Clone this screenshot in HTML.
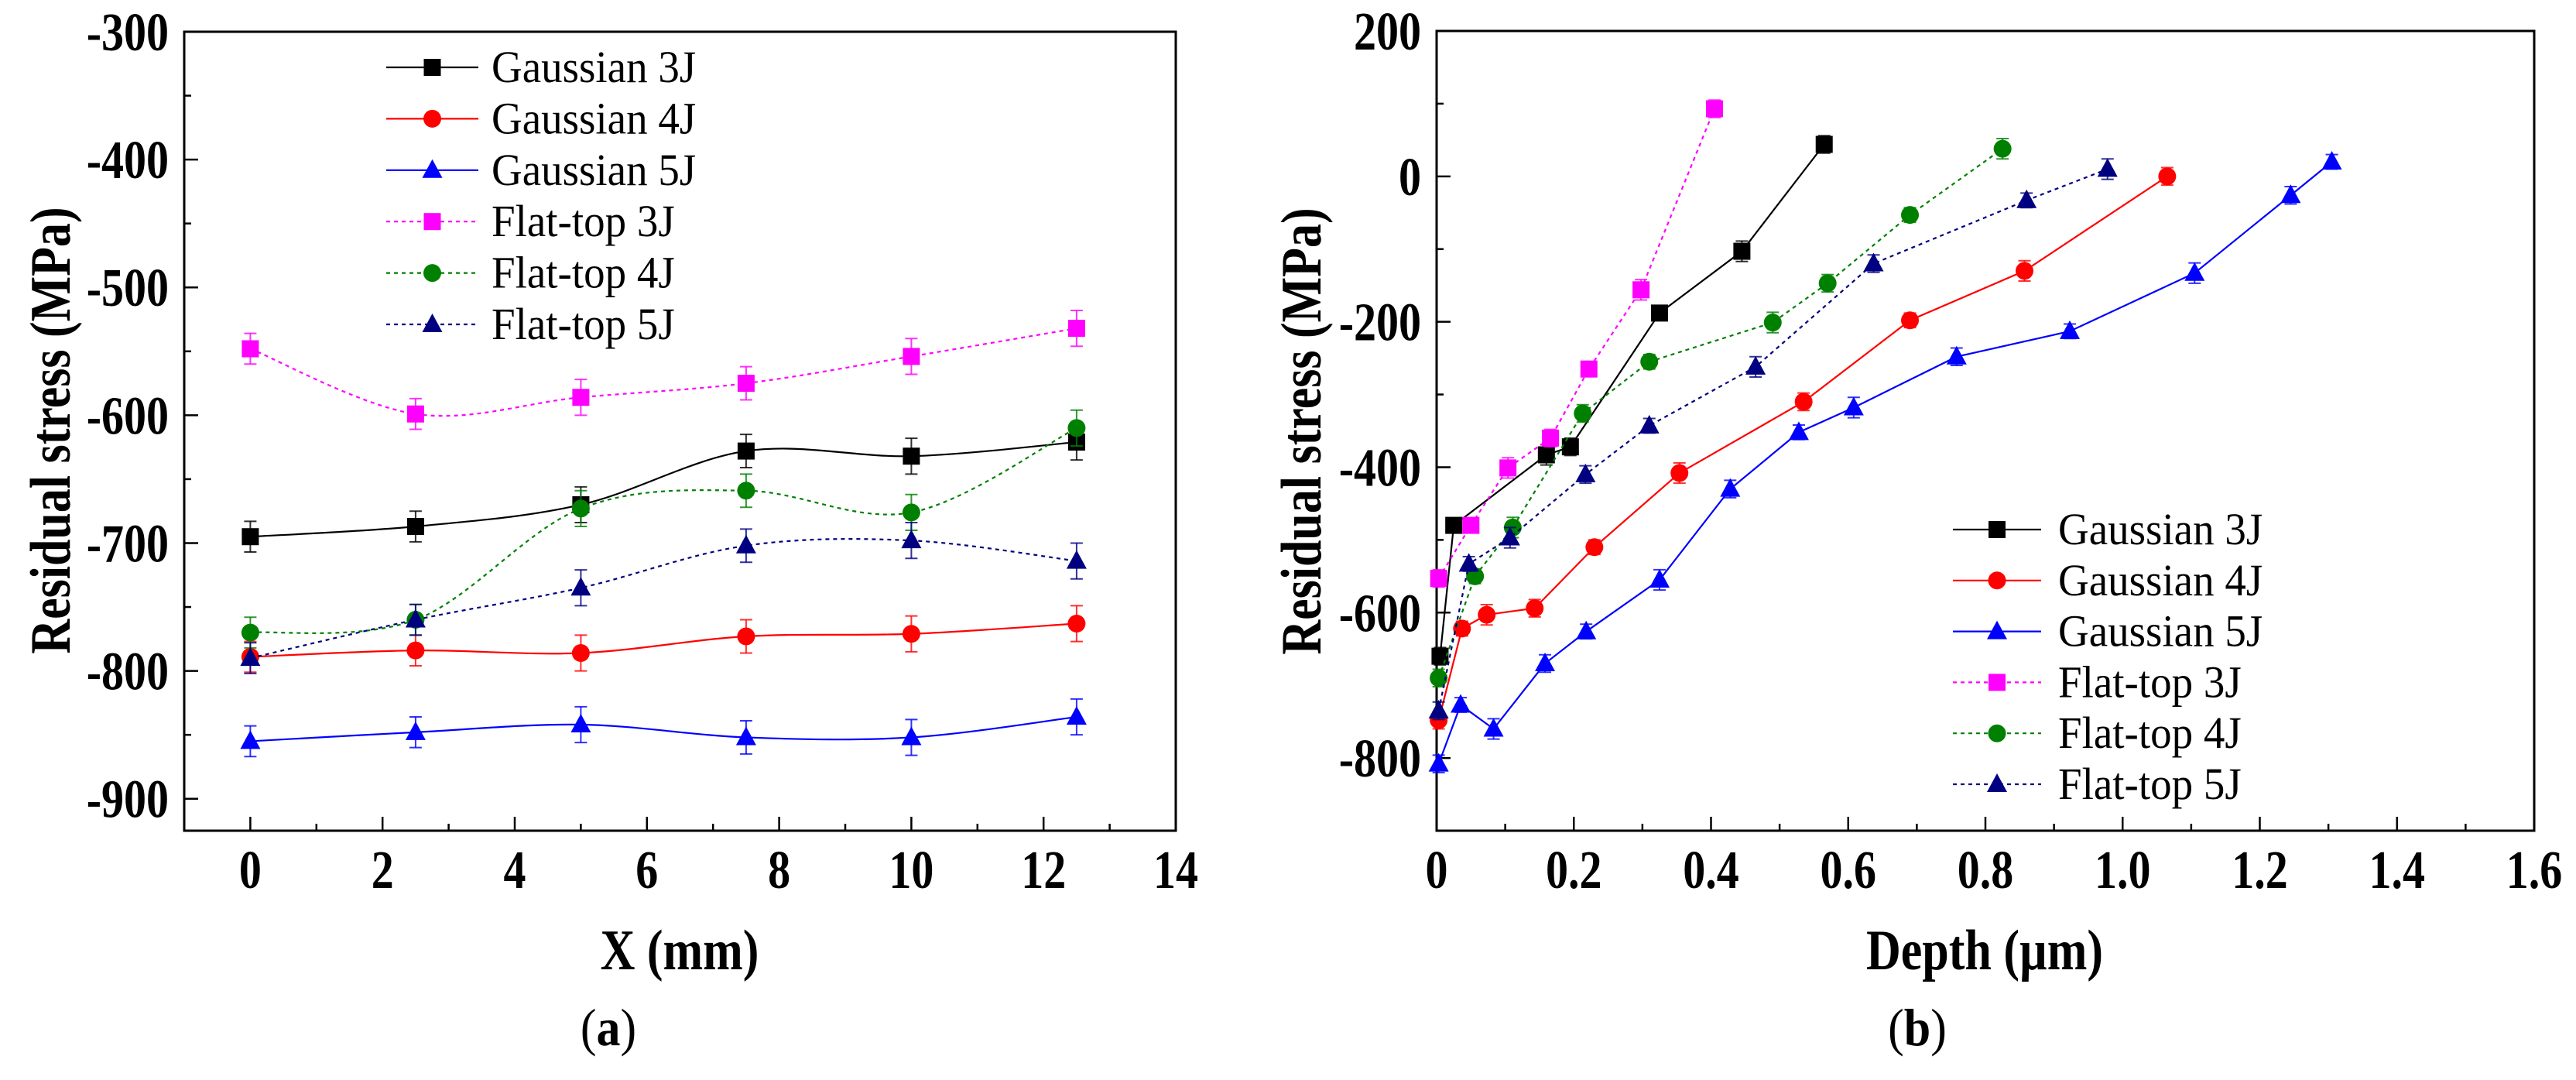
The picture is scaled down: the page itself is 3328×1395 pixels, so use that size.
<!DOCTYPE html>
<html><head><meta charset="utf-8"><style>
html,body{margin:0;padding:0;background:#fff;}
svg text{font-family:"Liberation Serif",serif;}
</style></head><body>
<svg id="fig" width="3328" height="1390" xmlns="http://www.w3.org/2000/svg"></svg>
<script>
// ---- Chart (a) data ----
const aX = [0, 2.5, 5, 7.5, 10, 12.5];
const aG3 = [-695, -687, -670, -628, -632, -621];
const aG4 = [-789, -784, -786, -773, -771, -763];
const aG5 = [-855, -848, -842, -852, -852, -836];
const aF3 = [-548, -599, -586, -575, -554, -532];
const aF4 = [-770, -760, -673, -659, -676, -610];
const aF5 = [-790, -760, -735, -702, -698, -714];
const aErr = [12, 12, 14, 13, 14, 14];
const aXTicks = [0, 2, 4, 6, 8, 10, 12, 14];
const aYTicks = [-900, -800, -700, -600, -500, -400, -300];
// ---- Chart (b) data ----
const bG3x = [0.005, 0.025, 0.16, 0.195, 0.325, 0.445, 0.565];
const bG3y = [-660, -480, -383, -372, -188, -103, 44];
const bG4x = [0.003, 0.037, 0.073, 0.143, 0.23, 0.354, 0.535, 0.69, 0.857, 1.065];
const bG4y = [-748, -622, -603, -594, -510, -408, -310, -198, -130, 0];
const bG5x = [0.003, 0.035, 0.083, 0.158, 0.218, 0.325, 0.428, 0.528, 0.608, 0.758, 0.923, 1.105, 1.245, 1.305];
const bG5y = [-808, -727, -760, -670, -626, -555, -430, -352, -318, -248, -213, -133, -26, 20];
const bF3x = [0.003, 0.05, 0.104, 0.166, 0.222, 0.298, 0.405];
const bF3y = [-553, -480, -401, -360, -265, -156, 93];
const bF4x = [0.003, 0.056, 0.111, 0.213, 0.31, 0.49, 0.57, 0.69, 0.825];
const bF4y = [-690, -550, -483, -326, -255, -201, -147, -53, 38];
const bF5x = [0.003, 0.047, 0.107, 0.217, 0.31, 0.465, 0.637, 0.86, 0.978];
const bF5y = [-735, -533, -497, -410, -343, -262, -120, -33, 10];
const bXTicks = [0, 0.2, 0.4, 0.6, 0.8, 1.0, 1.2, 1.4, 1.6];
const bXLabels = ["0", "0.2", "0.4", "0.6", "0.8", "1.0", "1.2", "1.4", "1.6"];
const bYTicks = [-800, -600, -400, -200, 0, 200];
const legendNames = ["Gaussian 3J", "Gaussian 4J", "Gaussian 5J", "Flat-top 3J", "Flat-top 4J", "Flat-top 5J"];
const legendNamesB = ["Gaussian 3J", "Gaussian 4J", "Gaussian 5J", "Flat-top  3J", "Flat-top  4J", "Flat-top  5J"];

const NS = "http://www.w3.org/2000/svg";
const svg = document.getElementById('fig');
const SY = 1.2;
function mk(tag, attrs, parent, text) {
  const e = document.createElementNS(NS, tag);
  for (const k in attrs) e.setAttribute(k, attrs[k]);
  if (text !== undefined) e.textContent = text;
  (parent || svg).appendChild(e);
  return e;
}
const styles = [
  {c: '#000000', m: 'sq', d: ''},
  {c: '#ff0000', m: 'ci', d: ''},
  {c: '#0000ff', m: 'tr', d: ''},
  {c: '#ff00ff', m: 'sq', d: '5,5'},
  {c: '#008000', m: 'ci', d: '5,5'},
  {c: '#000080', m: 'tr', d: '5,5'}
];
function marker(g, x, y, s) {
  let e;
  if (s.m === 'sq') e = mk('rect', {x: x - 11, y: y - 11, width: 22, height: 22, fill: s.c}, g);
  else if (s.m === 'ci') e = mk('circle', {cx: x, cy: y, r: 11.5, fill: s.c}, g);
  else e = mk('polygon', {points: `${x},${y - 14} ${x - 13},${y + 10} ${x + 13},${y + 10}`, fill: s.c}, g);
  
  
}
function smoothPath(pts) {
  let d = `M${pts[0][0]},${pts[0][1]}`;
  for (let i = 0; i < pts.length - 1; i++) {
    const p0 = pts[Math.max(0, i - 1)], p1 = pts[i], p2 = pts[i + 1], p3 = pts[Math.min(pts.length - 1, i + 2)];
    const c1 = [p1[0] + (p2[0] - p0[0]) / 6, p1[1] + (p2[1] - p0[1]) / 6];
    const c2 = [p2[0] - (p3[0] - p1[0]) / 6, p2[1] - (p3[1] - p1[1]) / 6];
    d += ` C${c1[0]},${c1[1]} ${c2[0]},${c2[1]} ${p2[0]},${p2[1]}`;
  }
  return d;
}
function linePath(pts) { return pts.map((p, i) => (i ? 'L' : 'M') + p[0] + ',' + p[1]).join(' '); }
function stretchedText(g, x, y, anchor, size, bold, str) {
  return mk('text', {x: 0, y: 0, transform: `translate(${x},${y}) scale(1,${SY})`, 'text-anchor': anchor, 'font-size': size, 'font-weight': bold ? 'bold' : 'normal'}, g, str);
}

function axes(g, L, R, T, B, xs, ys, xT, xLab, xMinor, yT, yMinor) {
  mk('rect', {x: L, y: T, width: R - L, height: B - T, fill: 'none', stroke: '#000', 'stroke-width': 3}, g);
  xMinor.forEach(v => mk('line', {x1: xs(v), x2: xs(v), y1: B, y2: B - 9, stroke: '#000', 'stroke-width': 2.5}, g));
  yMinor.forEach(v => mk('line', {x1: L, x2: L + 9, y1: ys(v), y2: ys(v), stroke: '#000', 'stroke-width': 2.5}, g));
  xT.forEach((v, i) => {
    mk('line', {x1: xs(v), x2: xs(v), y1: B, y2: B - 18, stroke: '#000', 'stroke-width': 2.5}, g);
    const t = stretchedText(g, xs(v), B + 74, 'middle', 58, true, xLab[i]);
    
    
  });
  yT.forEach(v => {
    mk('line', {x1: L, x2: L + 18, y1: ys(v), y2: ys(v), stroke: '#000', 'stroke-width': 2.5}, g);
    const t = stretchedText(g, L - 20, ys(v) + 24, 'end', 58, true, String(v));
    
    
  });
}
function series(g, xs, ys, X, Y, s, err, smooth, name) {
  const sg = mk('g', {}, g);
  
  
  const pts = X.map((x, i) => [xs(x), ys(Y[i])]);
  mk('path', {d: smooth ? smoothPath(pts) : linePath(pts), fill: 'none', stroke: s.c, 'stroke-width': 2.2, 'stroke-dasharray': s.d}, sg);
  pts.forEach((p, i) => {
    const e = err[i % err.length];
    const y1 = ys(Y[i] + e), y2 = ys(Y[i] - e);
    mk('line', {x1: p[0], x2: p[0], y1: y1, y2: y2, stroke: s.c, 'stroke-width': 2, opacity: 0.8}, sg);
    mk('line', {x1: p[0] - 8, x2: p[0] + 8, y1: y1, y2: y1, stroke: s.c, 'stroke-width': 2, opacity: 0.8}, sg);
    mk('line', {x1: p[0] - 8, x2: p[0] + 8, y1: y2, y2: y2, stroke: s.c, 'stroke-width': 2, opacity: 0.8}, sg);
    marker(sg, p[0], p[1], s);
  });
}
function legend(g, x0, x1, tx, y0, dy, names) {
  names.forEach((n, i) => {
    const s = styles[i], y = y0 + i * dy;
    const lg = mk('g', {}, g);
    
    
    mk('line', {x1: x0, x2: x1, y1: y, y2: y, stroke: s.c, 'stroke-width': 2.2, 'stroke-dasharray': s.d}, lg);
    marker(lg, (x0 + x1) / 2, y, s);
    mk('text', {x: 0, y: 0, transform: `translate(${tx},${y + 19}) scale(1,1.05)`, 'font-size': 55}, lg, n);
  });
}

// ---- Chart (a) ----
(function () {
  const g = mk('g', {});
  
  
  const L = 238, R = 1519, T = 41, B = 1073;
  const xs = v => L + (v + 1) / 15 * (R - L);
  const ys = v => T + (-300 - v) / 625 * (B - T);
  const xMinor = []; for (let v = -1; v <= 13; v += 2) xMinor.push(v);
  const yMinor = [-850, -750, -650, -550, -450, -350];
  axes(g, L, R, T, B, xs, ys, aXTicks, aXTicks.map(String), xMinor, aYTicks, yMinor);
  const data = [aG3, aG4, aG5, aF3, aF4, aF5];
  data.forEach((Y, i) => series(g, xs, ys, aX, Y, styles[i], aErr, true, 'series-' + legendNames[i].toLowerCase().replace(/ /g, '-')));
  legend(g, 499, 618, 635, 87, 66.4, legendNames);
  const yt = mk('text', {x: 0, y: 0, transform: `translate(90,556) rotate(-90) scale(1,${SY})`, 'text-anchor': 'middle', 'font-size': 62, 'font-weight': 'bold'}, g, 'Residual stress (MPa)');
  
  
  const xt = stretchedText(g, 878, 1252, 'middle', 62, true, 'X (mm)');
  
  
  const cap = mk('text', {x: 0, y: 0, transform: `translate(786,1350) scale(1,1.1)`, 'text-anchor': 'middle', 'font-size': 62}, g);
  
  
  mk('tspan', {}, cap, '(');
  mk('tspan', {'font-weight': 'bold'}, cap, 'a');
  mk('tspan', {}, cap, ')');
})();

// ---- Chart (b) ----
(function () {
  const g = mk('g', {});
  
  
  const L = 1856, R = 3274, T = 40, B = 1073;
  const xs = v => L + v / 1.6 * (R - L);
  const ys = v => T + (200 - v) / 1100 * (B - T);
  const xMinor = []; for (let v = 0.1; v < 1.6; v += 0.2) xMinor.push(v);
  const yMinor = [-700, -500, -300, -100, 100];
  axes(g, L, R, T, B, xs, ys, bXTicks, bXLabels, xMinor, bYTicks, yMinor);
  const X = [bG3x, bG4x, bG5x, bF3x, bF4x, bF5x];
  const Y = [bG3y, bG4y, bG5y, bF3y, bF4y, bF5y];
  X.forEach((xx, i) => series(g, xs, ys, xx, Y[i], styles[i], [12, 10, 14], false, 'series-' + legendNames[i].toLowerCase().replace(/ /g, '-')));
  legend(g, 2523, 2637, 2659, 684, 65.8, legendNamesB);
  const yt = mk('text', {x: 0, y: 0, transform: `translate(1706,557) rotate(-90) scale(1,${SY})`, 'text-anchor': 'middle', 'font-size': 62, 'font-weight': 'bold'}, g, 'Residual stress (MPa)');
  
  
  const xt = stretchedText(g, 2564, 1252, 'middle', 62, true, 'Depth (µm)');
  
  
  const cap = mk('text', {x: 0, y: 0, transform: `translate(2477,1350) scale(1,1.1)`, 'text-anchor': 'middle', 'font-size': 62}, g);
  
  
  mk('tspan', {}, cap, '(');
  mk('tspan', {'font-weight': 'bold'}, cap, 'b');
  mk('tspan', {}, cap, ')');
})();
</script>
</body></html>
